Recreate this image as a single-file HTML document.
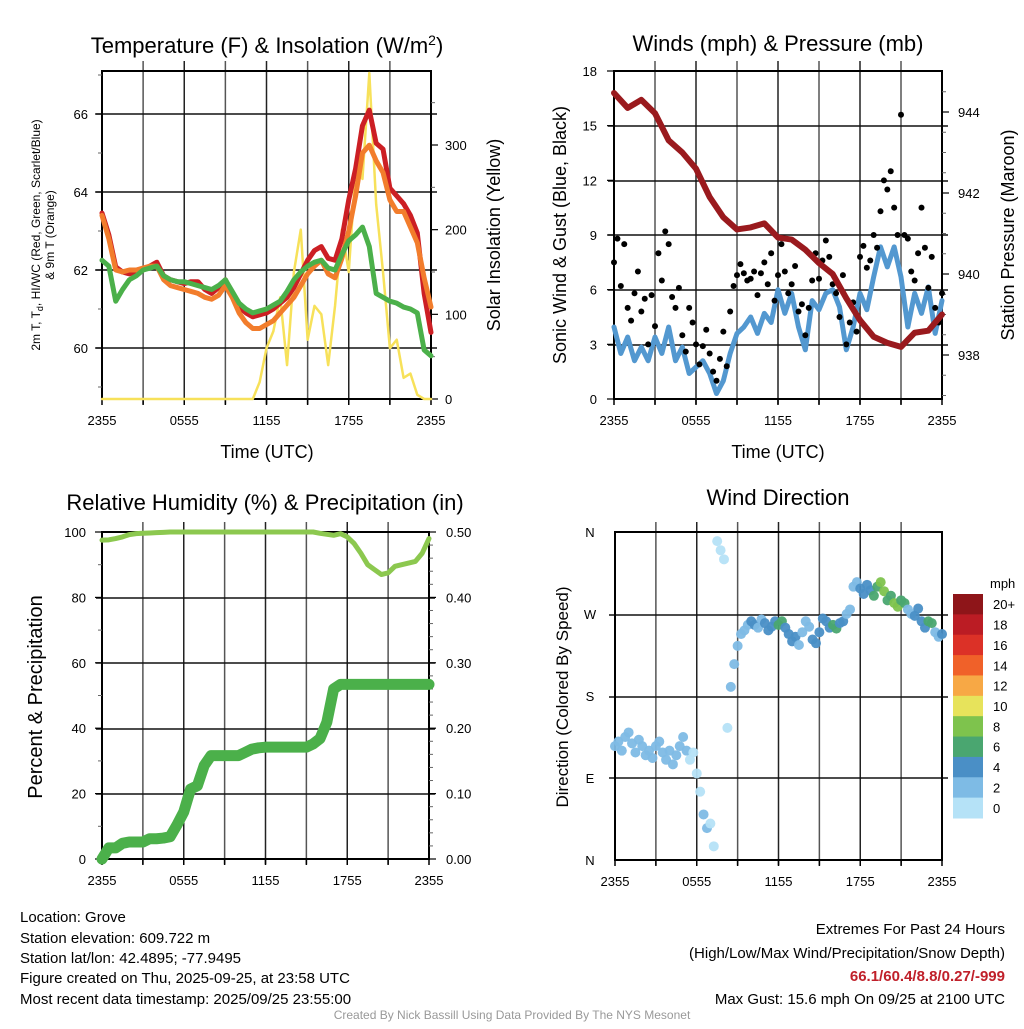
<!DOCTYPE html>
<html><head><meta charset="utf-8"><style>
body{margin:0;background:#fff}
svg{font-family:"Liberation Sans",sans-serif}
</style></head><body>
<svg id="s" width="1024" height="1024" viewBox="0 0 1024 1024" xmlns="http://www.w3.org/2000/svg">
<rect width="1024" height="1024" fill="#fff"/>
<g font-size="22" text-anchor="middle" fill="#000">
<text x="267" y="53">Temperature (F) &amp; Insolation (W/m<tspan dy="-8" font-size="14">2</tspan><tspan dy="8">)</tspan></text>
<text x="778" y="51">Winds (mph) &amp; Pressure (mb)</text>
<text x="265" y="510">Relative Humidity (%) &amp; Precipitation (in)</text>
<text x="778" y="505">Wind Direction</text>
</g>
<g font-size="18" text-anchor="middle">
<text x="267" y="458">Time (UTC)</text>
<text x="778" y="458">Time (UTC)</text>
<text transform="translate(500,235) rotate(-90)">Solar Insolation (Yellow)</text>
<text transform="translate(566,235) rotate(-90)">Sonic Wind &amp; Gust (Blue, Black)</text>
<text transform="translate(1014,235) rotate(-90)">Station Pressure (Maroon)</text>
<text transform="translate(42,697) rotate(-90)" font-size="20">Percent &amp; Precipitation</text>
<text transform="translate(568,697) rotate(-90)" font-size="17">Direction (Colored By Speed)</text>
</g>
<g font-size="12" text-anchor="middle">
<text transform="translate(40,235) rotate(-90)">2m T, T<tspan font-size="9" dy="3">d</tspan><tspan dy="-3">, HI/WC (Red, Green, Scarlet/Blue)</tspan></text>
<text transform="translate(54,235) rotate(-90)">&amp; 9m T (Orange)</text>
</g>
<g font-size="15" fill="#000">
<text x="20" y="922">Location: Grove</text>
<text x="20" y="943">Station elevation: 609.722 m</text>
<text x="20" y="963">Station lat/lon: 42.4895; -77.9495</text>
<text x="20" y="983">Figure created on Thu, 2025-09-25, at 23:58 UTC</text>
<text x="20" y="1004">Most recent data timestamp: 2025/09/25 23:55:00</text>
</g>
<g font-size="15" text-anchor="end">
<text x="1005" y="934">Extremes For Past 24 Hours</text>
<text x="1005" y="958">(High/Low/Max Wind/Precipitation/Snow Depth)</text>
<text x="1005" y="981" fill="#c0202a" font-weight="bold">66.1/60.4/8.8/0.27/-999</text>
<text x="1005" y="1004">Max Gust: 15.6 mph On 09/25 at 2100 UTC</text>
</g>
<text x="512" y="1019" font-size="12" fill="#999" text-anchor="middle">Created By Nick Bassill Using Data Provided By The NYS Mesonet</text>
</svg>
<script>
const timeLabels=["2355","0555","1155","1755","2355"];
const tempRed=[63.46,62.9,62.08,61.95,61.9,61.95,62.0,62.1,62.2,61.85,61.75,61.7,61.65,61.7,61.7,61.5,61.4,61.55,61.75,61.4,61.05,60.9,60.8,60.85,60.9,61.0,61.15,61.3,61.55,61.9,62.25,62.5,62.6,62.3,62.25,62.8,63.8,64.6,65.7,66.1,65.25,65.1,64.1,63.9,63.7,63.4,62.95,61.4,60.4];
const tempOrange=[63.4,62.8,62.0,61.95,62.0,62.0,62.05,62.1,62.1,61.75,61.6,61.55,61.5,61.45,61.4,61.3,61.25,61.35,61.6,61.3,60.9,60.65,60.5,60.5,60.6,60.7,60.9,61.1,61.3,61.6,61.9,62.1,62.25,61.9,61.8,62.3,63.0,63.9,65.0,65.2,64.8,64.5,63.8,63.5,63.5,63.1,62.7,61.8,61.05];
const tempGreen=[62.25,62.1,61.2,61.5,61.75,61.85,62.0,62.05,62.1,61.85,61.75,61.7,61.7,61.65,61.6,61.55,61.5,61.6,61.75,61.45,61.15,61.0,60.9,60.95,61.0,61.1,61.2,61.45,61.75,61.95,62.1,62.2,62.25,62.05,62.0,62.4,62.75,62.9,63.1,62.6,61.4,61.3,61.2,61.15,61.05,61.0,60.9,59.95,59.8];
const solar=[0,0,0,0,0,0,0,0,0,0,0,0,0,0,0,0,0,0,0,0,0,0,0,20,60,80,120,40,150,200,70,110,100,40,110,200,150,270,260,385,230,150,60,70,25,30,5,0,0];
const pressure=[944.47,944.1,944.3,943.97,943.3,943.0,942.6,941.9,941.4,941.1,941.15,941.25,940.9,940.85,940.6,940.27,940.0,939.4,938.86,938.45,938.3,938.2,938.55,938.6,939.0];
const windSpeed=[3.95,2.5,3.4,2.1,2.85,2.1,3.4,2.5,3.95,2.1,2.85,1.4,1.75,2.1,1.4,0.3,1.0,2.5,3.6,3.95,4.5,3.6,4.7,4.2,6.0,4.7,5.8,3.95,2.7,5.4,4.9,5.8,6.0,5.05,2.7,3.95,5.8,4.9,6.7,8.35,7.25,8.35,6.7,3.95,5.8,4.7,6.15,3.6,5.4];
const gust=[7.5,8.8,6.2,8.5,5.0,4.3,5.8,7.0,4.8,5.5,3.0,5.7,4.0,8.0,6.5,9.2,8.5,5.6,5.0,6.1,3.5,2.6,5.0,4.2,3.0,1.9,2.9,3.8,2.5,1.5,1.0,2.2,3.7,1.8,4.8,6.2,6.8,7.4,6.9,6.5,6.6,7.0,5.7,6.9,7.5,6.3,8.0,5.4,6.8,8.5,7.0,5.8,6.3,7.3,4.8,5.2,3.5,5.0,6.5,8.0,6.6,7.6,8.7,7.8,6.3,5.8,4.5,6.8,3.0,4.2,5.3,3.7,7.8,8.4,7.2,7.6,9.0,8.3,10.3,12.0,11.5,12.5,10.5,9.0,15.6,9.0,8.8,7.0,6.5,8.0,10.5,8.3,6.1,7.8,5.0,4.2,5.8];
const rh=[97.5,97.6,98.0,98.5,99.2,99.5,99.6,99.7,99.8,99.9,100,100,100,100,100,100,100,100,100,100,100,100,100,100,100,100,100,100,100,100,100,100,99.6,99.3,99.0,99.5,98.5,96.5,93.5,90,88.5,87.0,87.5,89.5,90,90.5,91,93.5,98];
const precip=[0,0.017,0.017,0.024,0.026,0.026,0.026,0.031,0.031,0.032,0.034,0.052,0.072,0.107,0.112,0.143,0.158,0.158,0.158,0.158,0.158,0.163,0.168,0.170,0.171,0.171,0.171,0.171,0.171,0.171,0.171,0.176,0.184,0.209,0.26,0.267,0.267,0.267,0.267,0.267,0.267,0.267,0.267,0.267,0.267,0.267,0.267,0.267,0.267];
const direction=[125,130,120,135,140,128,118,132,125,115,120,112,125,130,118,110,120,105,115,125,135,120,110,118,95,75,50,35,40,15,350,340,330,145,190,215,235,248,252,258,262,258,255,264,260,252,256,262,258,262,255,248,240,245,236,250,262,256,242,238,250,265,262,255,258,254,260,262,270,275,300,305,298,292,302,296,290,300,305,295,285,290,282,278,285,282,275,270,268,276,262,255,262,260,250,245,248];
const cbLabels=["20+","18","16","14","12","10","8","6","4","2","0"];
const cbColors=["#8e1519","#bb1c24","#dc3127","#f06129","#f7a845","#e7e35b","#7ec34d","#4aa670","#4a8fc6","#7ebbe5","#b5e2f7"];

const S=document.getElementById('s');
const NS='http://www.w3.org/2000/svg';
function mk(tag,attrs,parent){const e=document.createElementNS(NS,tag);for(const k in attrs)e.setAttribute(k,attrs[k]);(parent||S).appendChild(e);return e;}
function lin(d0,d1,r0,r1){return v=>r0+(v-d0)*(r1-r0)/(d1-d0);}

function panel(name,x0,x1,y0,y1,hgrid){
  const g=mk('g',{});
  
  
  for(let i=1;i<8;i++){const x=x0+(x1-x0)*i/8;mk('line',{x1:x,x2:x,y1:y0-10,y2:y1+5,stroke:i%2?'#555':'#222','stroke-width':1.5},g);}
  hgrid.forEach(y=>mk('line',{x1:x0-6,x2:x1+6,y1:y,y2:y,stroke:'#111','stroke-width':1.5},g));
  for(let i=0;i<=8;i++){const x=x0+(x1-x0)*i/8;mk('line',{x1:x,x2:x,y1:y1,y2:y1+6,stroke:'#000','stroke-width':1.5},g);}
  const fr=mk('rect',{x:x0,y:y0,width:x1-x0,height:y1-y0,fill:'none',stroke:'#000','stroke-width':2});
  
  
  timeLabels.forEach((t,i)=>{const e=mk('text',{x:x0+(x1-x0)*i/4,y:y1+26,'font-size':13,'text-anchor':'middle'});e.textContent=t;
    
    });
}
function yTicks(vals,labels,sc,x,anchor,minor,tickX,dir){
  vals.forEach((v,i)=>{const y=sc(v);const e=mk('text',{x:x,y:y+5,'font-size':13,'text-anchor':anchor});e.textContent=labels[i];
    
    
    mk('line',{x1:tickX,x2:tickX+dir*7,y1:y,y2:y,stroke:'#000','stroke-width':1.2});});
  minor.forEach(v=>{const y=sc(v);mk('line',{x1:tickX,x2:tickX+dir*4,y1:y,y2:y,stroke:'#666','stroke-width':1});});
}
function line(arr,xs,ys,color,w,name){
  const pts=arr.map((v,i)=>xs(i)+','+ys(v)).join(' ');
  const p=mk('polyline',{points:pts,fill:'none',stroke:color,'stroke-width':w,'stroke-linejoin':'round','stroke-linecap':'round'});
  
  
}

// Panel 1
const P1={x0:102,x1:431,y0:71,y1:399};
panel('temperature',P1.x0,P1.x1,P1.y0,P1.y1,[348,270,192,114]);
const tY=lin(60,66,348,114), sY=lin(0,300,399,145);
const hx1=i=>P1.x0+(P1.x1-P1.x0)*i/48;
yTicks([60,62,64,66],["60","62","64","66"],tY,88,'end',[59,61,63,65,67],P1.x0,-1);
yTicks([0,100,200,300],["0","100","200","300"],sY,445,'start',[50,150,250,350],P1.x1,1);
line(solar,hx1,sY,'#f7e15a',2.5,'solar-insolation-line');
line(tempRed,hx1,tY,'#cc1f24',5,'temperature-line');
line(tempOrange,hx1,tY,'#f27d2c',5,'temperature-9m-line');
line(tempGreen,hx1,tY,'#4bb04a',5,'dewpoint-line');

// Panel 2
const P2={x0:614,x1:942,y0:71,y1:399};
panel('winds',P2.x0,P2.x1,P2.y0,P2.y1,[345,290,235,181,126]);
const wY=lin(0,18,399,71), pY=lin(938,944,355,112);
yTicks([0,3,6,9,12,15,18],["0","3","6","9","12","15","18"],wY,597,'end',[],P2.x0,-1);
yTicks([938,940,942,944],["938","940","942","944"],pY,958,'start',[937,937.5,938.5,939,939.5,940.5,941,941.5,942.5,943,943.5,944.5],P2.x1,1);
line(windSpeed,i=>P2.x0+(P2.x1-P2.x0)*i/48,wY,'#5398d0',5,'sonic-wind-line');
gust.forEach((v,i)=>{const c=mk('circle',{cx:P2.x0+(P2.x1-P2.x0)*i/96,cy:wY(v),r:3,fill:'#000'});
  
  });
line(pressure,i=>P2.x0+(P2.x1-P2.x0)*i/24,pY,'#9a1a1e',6,'pressure-line');

// Panel 3
const P3={x0:102,x1:429,y0:532,y1:859};
panel('humidity',P3.x0,P3.x1,P3.y0,P3.y1,[794,729,663,598]);
const rY=lin(0,100,859,532), prY=lin(0,0.5,859,532);
yTicks([0,20,40,60,80,100],["0","20","40","60","80","100"],rY,86,'end',[10,30,50,70,90],P3.x0,-1);
yTicks([0,0.1,0.2,0.3,0.4,0.5],["0.00","0.10","0.20","0.30","0.40","0.50"],prY,446,'start',[0.02,0.04,0.06,0.08,0.12,0.14,0.16,0.18,0.22,0.24,0.26,0.28,0.32,0.34,0.36,0.38,0.42,0.44,0.46,0.48],P3.x1,1);
const hx3=i=>P3.x0+(P3.x1-P3.x0)*i/48;
line(rh,hx3,rY,'#8cc84f',5,'relative-humidity-line');
line(precip,hx3,prY,'#4bb04a',11,'precipitation-line');

// Panel 4
const P4={x0:615,x1:942,y0:532,y1:860};
panel('direction',P4.x0,P4.x1,P4.y0,P4.y1,[615,697,778]);
const dY=lin(0,360,860,532);
[[360,"N"],[270,"W"],[180,"S"],[90,"E"],[0,"N"]].forEach(([v,l])=>{const e=mk('text',{x:590,y:dY(v)+5,'font-size':13,'text-anchor':'middle'});e.textContent=l;
  
  });
function spdColor(v){const idx=Math.min(10,Math.floor(v/2));return cbColors[10-idx];}
direction.forEach((d,i)=>{const c=mk('circle',{cx:P4.x0+(P4.x1-P4.x0)*i/96,cy:dY(d),r:5,fill:spdColor(windSpeed[Math.floor(i/2)]),opacity:0.95});
  
  });
// colorbar
const cbH=224/11;
cbColors.forEach((c,i)=>{const r=mk('rect',{x:953,y:594+i*cbH,width:30,height:cbH+0.5,fill:c});
  
  
  const t=mk('text',{x:993,y:594+i*cbH+cbH/2+5,'font-size':13});t.textContent=cbLabels[i];
  
  });
const mph=mk('text',{x:990,y:588,'font-size':13});mph.textContent='mph';


</script>
</body></html>
